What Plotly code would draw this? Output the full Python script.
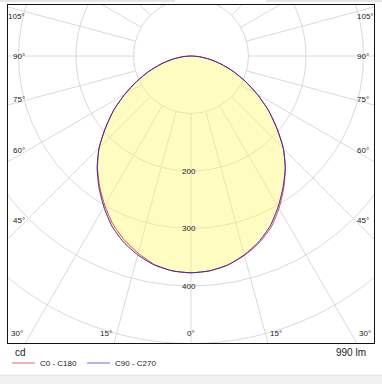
import numpy as np
import plotly.graph_objects as go

# ---------------- data ----------------
gamma = [0, 5, 10, 15, 20, 25, 30, 35, 40, 45, 50, 55, 60, 65, 70, 75, 80, 85, 90]
c0    = [377, 375, 369, 359, 346, 329, 306, 281, 255, 227, 194, 164, 133, 104, 78, 54, 33, 15, 0]
c180  = [377, 375, 368, 355, 340, 322, 300, 277, 253, 226, 194, 164, 133, 104, 78, 54, 33, 15, 0]
c90   = [377, 375, 369, 358, 344, 326, 303, 279, 255, 227, 195, 164, 133, 104, 78, 54, 33, 15, 0]
c270  = [377, 375, 369, 358, 344, 326, 303, 279, 254, 226, 194, 164, 133, 104, 78, 54, 33, 15, 0]
grid_radii = [100, 200, 300, 400, 500, 600]
radial_labels = [200, 300, 400]
side_angle_labels = [105, 90, 75, 60, 45]
bottom_angle_labels = [30, 15, 0]
series_names = ["C0 - C180", "C90 - C270"]
unit_label = "cd"
flux_label = "990 lm"

# ---------------- geometry ----------------
W, H = 382, 384
ML, MR, MT, MB = 8, 8, 5, 41
S = 0.575            # px per cd
CX, CY = 191, 56     # pole position in px
x0 = (ML - CX) / S
x1 = (W - MR - CX) / S
y1 = (CY - MT) / S
y0 = -((H - MB) - CY) / S
PW = W - ML - MR
PH = H - MT - MB


def px2paper(px, py):
    return (px - ML) / PW, ((H - MB) - py) / PH


def curve(left, right):
    g = np.radians(np.array(gamma, dtype=float))
    l = np.array(left, dtype=float)
    r = np.array(right, dtype=float)
    xl, yl = -l * np.sin(g), -l * np.cos(g)
    xr, yr = r * np.sin(g), -r * np.cos(g)
    xs = np.concatenate([xl[::-1], xr[1:]])
    ys = np.concatenate([yl[::-1], yr[1:]])
    return xs, ys


FONT = "Liberation Sans, Arial, sans-serif"
GRID = "#dadada"

fig = go.Figure()

xb, yb = curve(c270, c90)
xp, yp = curve(c180, c0)

fig.add_trace(go.Scatter(x=xb, y=yb, mode="lines", fill="toself",
                         fillcolor="rgba(255,248,110,0.42)",
                         line=dict(width=0, shape="spline", smoothing=0.6),
                         hoverinfo="skip", showlegend=False))
fig.add_trace(go.Scatter(x=xp, y=yp, mode="lines", name=series_names[0],
                         line=dict(color="#e0405a", width=1, shape="spline", smoothing=0.6),
                         showlegend=False))
fig.add_trace(go.Scatter(x=xb, y=yb, mode="lines", name=series_names[1],
                         line=dict(color="#3a2a9a", width=1, shape="spline", smoothing=0.6),
                         showlegend=False))

shapes = []
for r in grid_radii:
    shapes.append(dict(type="circle", xref="x", yref="y", x0=-r, x1=r, y0=-r, y1=r,
                       line=dict(color=GRID, width=1), layer="below"))
for a in range(0, 181, 15):
    t = np.radians(a)
    for sgn in (-1, 1):
        if a in (0, 180) and sgn == 1:
            continue
        shapes.append(dict(type="line", xref="x", yref="y",
                           x0=sgn * 100 * np.sin(t), y0=-100 * np.cos(t),
                           x1=sgn * 800 * np.sin(t), y1=-800 * np.cos(t),
                           line=dict(color=GRID, width=1), layer="below"))

# legend lines
lx = [(12, 35, "#f2b0ba"), (87, 110, "#b6b6ec")]
for a_, b_, col in lx:
    p0 = px2paper(a_, 363)
    p1 = px2paper(b_, 363)
    shapes.append(dict(type="line", xref="paper", yref="paper", x0=p0[0], x1=p1[0],
                       y0=p0[1], y1=p1[1], line=dict(color=col, width=2)))

# surrounding page strips
for (ax, ay, bx, by, col) in [(0, 375, 382, 384, "#f0f0f0"), (0, 0, 175, 2, "#e6e6e6"),
                              (266, 0, 382, 2, "#e6e6e6")]:
    p0 = px2paper(ax, ay)
    p1 = px2paper(bx, by)
    shapes.append(dict(type="rect", xref="paper", yref="paper", x0=p0[0], x1=p1[0],
                       y0=p0[1], y1=p1[1], line=dict(width=0), fillcolor=col))
p0 = px2paper(0, 375)
p1 = px2paper(382, 375)
shapes.append(dict(type="line", xref="paper", yref="paper", x0=p0[0], x1=p1[0],
                   y0=p0[1], y1=p1[1], line=dict(color="#e2e2e2", width=1)))

ann = []
TXT = "#222222"
# side angle labels
xin = (CX - 27) / S
ytop = (CY - 16) / S
for a in side_angle_labels:
    yy = -xin / np.tan(np.radians(a)) if a != 90 else 0.0
    yy = min(yy, ytop)
    for sgn in (-1, 1):
        ann.append(dict(x=sgn * xin, y=yy, xref="x", yref="y", text=f"{a}°",
                        showarrow=False, xanchor="right" if sgn < 0 else "left",
                        yanchor="middle", font=dict(family=FONT, size=8, color=TXT)))
# bottom angle labels
ylab = -(333 - CY) / S
for a in bottom_angle_labels:
    xx = -y0 * np.tan(np.radians(a))
    if a == 0:
        ann.append(dict(x=0, y=ylab, xref="x", yref="y", text="0°", showarrow=False,
                        xanchor="center", yanchor="middle",
                        font=dict(family=FONT, size=8, color=TXT)))
    else:
        for sgn in (-1, 1):
            ann.append(dict(x=sgn * xx, y=ylab, xref="x", yref="y", text=f"{a}°",
                            showarrow=False, xanchor="right" if sgn < 0 else "left",
                            yanchor="middle", font=dict(family=FONT, size=8, color=TXT)))
# radial labels
for r in radial_labels:
    ann.append(dict(x=-3, y=-r, xref="x", yref="y", text=str(r), showarrow=False,
                    xanchor="center", yanchor="middle",
                    font=dict(family=FONT, size=8, color=TXT)))

px_, py_ = px2paper(13, 352)
ann.append(dict(x=px_, y=py_, xref="paper", yref="paper", text=unit_label, showarrow=False,
                xanchor="left", yanchor="middle", font=dict(family=FONT, size=10, color=TXT)))
px_, py_ = px2paper(368, 352)
ann.append(dict(x=px_, y=py_, xref="paper", yref="paper", text=flux_label, showarrow=False,
                xanchor="right", yanchor="middle", font=dict(family=FONT, size=10, color=TXT)))
for tx, name in [(38, series_names[0]), (113, series_names[1])]:
    px_, py_ = px2paper(tx, 363)
    ann.append(dict(x=px_, y=py_, xref="paper", yref="paper", text=name, showarrow=False,
                    xanchor="left", yanchor="middle", font=dict(family=FONT, size=8, color=TXT)))

fig.update_layout(
    width=W, height=H,
    margin=dict(l=ML, r=MR, t=MT, b=MB, pad=0),
    paper_bgcolor="white", plot_bgcolor="white",
    xaxis=dict(range=[x0, x1], showgrid=False, zeroline=False, showticklabels=False,
               ticks="", showline=True, mirror=True, linecolor="#111111", linewidth=1,
               fixedrange=True),
    yaxis=dict(range=[y0, y1], showgrid=False, zeroline=False, showticklabels=False,
               ticks="", showline=True, mirror=True, linecolor="#111111", linewidth=1,
               fixedrange=True),
    shapes=shapes, annotations=ann, showlegend=False,
)

fig.write_html("out.html", config={"displayModeBar": False},
               post_script="document.body.style.margin='0';document.body.style.overflow='hidden';")
